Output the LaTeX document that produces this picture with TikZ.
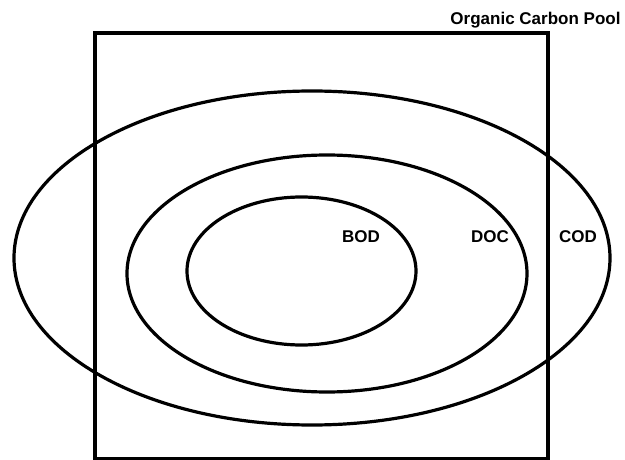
\documentclass[tikz,border=0pt]{standalone}
\usepackage{fontspec}
\setmainfont{Liberation Sans}
\usetikzlibrary{shapes.geometric}

\begin{document}
\begin{tikzpicture}[
    x=1pt,y=-1pt,
    every node/.style={font=\fontsize{17}{19}\selectfont\bfseries},
    pool/.style ={rectangle,draw=black,line width=3.2pt,inner sep=0pt,
                  minimum width=453pt,minimum height=426pt},
    ring/.style ={ellipse,draw=black,line width=3.2pt,inner sep=0pt,outer sep=0pt},
    lab/.style  ={anchor=base,inner sep=0pt}
  ]
  \useasboundingbox (0,0) rectangle (625,460);
  % carbon pool frame
  \node[pool] (pool) at (321.5,246) {};
  \node[lab] (title) at (535.5,25) {Organic Carbon Pool};
  % nested fractions
  \node[ring,minimum width=596pt,minimum height=334pt] (cod) at (312,258) {};
  \node[ring,minimum width=400pt,minimum height=237pt] (doc) at (327,273.5) {};
  \node[ring,minimum width=229pt,minimum height=148pt] (bod) at (301.5,271) {};
  \node[lab] (bodlab) at (361,243) {BOD};
  \node[lab] (doclab) at (490,243) {DOC};
  \node[lab] (codlab) at (578,243) {COD};
\end{tikzpicture}
\end{document}
